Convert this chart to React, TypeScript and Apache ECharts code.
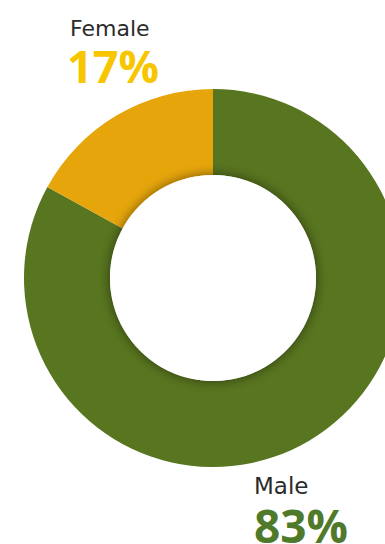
import React, { useEffect, useRef } from "react";
import * as echarts from "echarts";

const categories = ["Male", "Female"];
const values = [83, 17];
const colors = ["#58751f", "#e6a60b"];
const labelColors = ["#4f7a2a", "#f7c600"];

export default function App() {
  const ref = useRef<HTMLDivElement>(null);
  useEffect(() => {
    document.body.style.margin = "0";
    const chart = echarts.init(ref.current!, undefined, { renderer: "svg" });
    chart.setOption({
      animation: false,
      backgroundColor: "#ffffff",
      series: [
        {
          type: "pie",
          center: [213, 278],
          radius: [103, 189],
          startAngle: 90,
          clockwise: true,
          silent: true,
          label: { show: false },
          labelLine: { show: false },
          data: categories.map((c, i) => ({
            name: c,
            value: values[i],
            itemStyle: { color: colors[i] },
          })),
        },
        {
          type: "pie",
          center: [213, 278],
          radius: [0, 103],
          silent: true,
          z: 5,
          label: { show: false },
          labelLine: { show: false },
          data: [
            {
              name: "hole",
              value: 1,
              itemStyle: {
                color: "#ffffff",
                shadowBlur: 12,
                shadowColor: "rgba(0,0,0,0.5)",
              },
            },
          ],
        },
      ],
      graphic: [
        {
          type: "text",
          left: 70,
          top: 17,
          style: {
            text: categories[1],
            fontFamily: "DejaVu Sans",
            fontSize: 22,
            fill: "#2b2b2b",
          },
        },
        {
          type: "text",
          left: 67,
          top: 43,
          style: {
            text: `${values[1]}%`,
            fontFamily: "Open Sans",
            fontWeight: "bold",
            fontSize: 45,
            fill: labelColors[1],
          },
        },
        {
          type: "text",
          left: 254,
          top: 474,
          style: {
            text: categories[0],
            fontFamily: "DejaVu Sans",
            fontSize: 23,
            fill: "#2b2b2b",
          },
        },
        {
          type: "text",
          left: 254,
          top: 502,
          style: {
            text: `${values[0]}%`,
            fontFamily: "Open Sans",
            fontWeight: "bold",
            fontSize: 46,
            fill: labelColors[0],
          },
        },
      ],
    });
    return () => chart.dispose();
  }, []);
  return (
    <div
      ref={ref}
      style={{ position: "absolute", left: 0, top: 0, width: 385, height: 544 }}
    />
  );
}
